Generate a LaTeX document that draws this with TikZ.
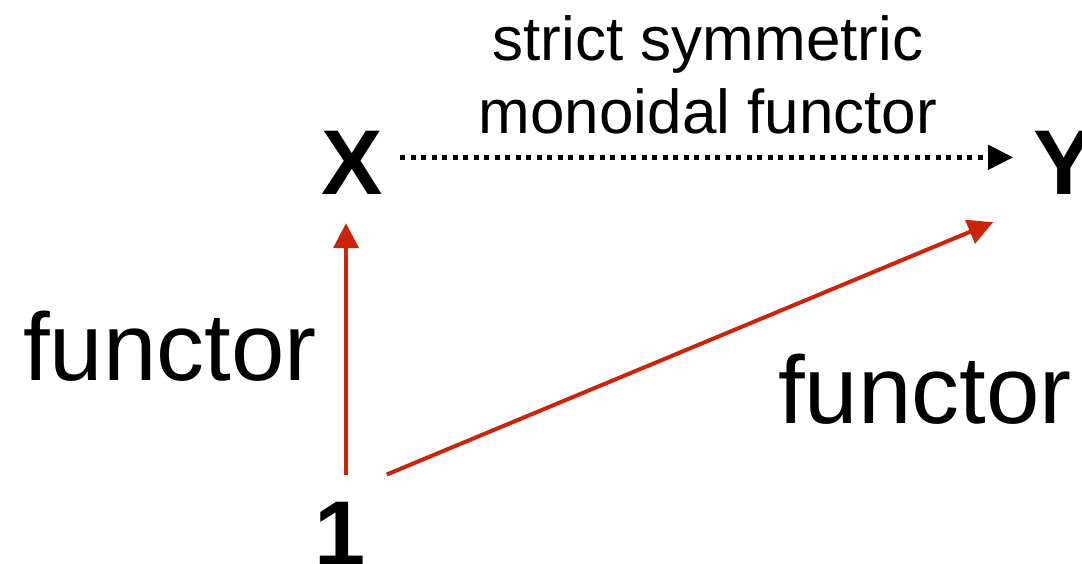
\documentclass[tikz,border=0pt]{standalone}
\usepackage{fontspec}
\setmainfont{Liberation Sans}
\usetikzlibrary{arrows.meta}
\definecolor{arrred}{RGB}{204,36,8}
\tikzset{
  obj/.style={inner sep=0pt, anchor=base, font=\fontsize{92}{92}\selectfont\bfseries},
  lbl/.style={inner sep=0pt, font=\fontsize{96}{96}\selectfont},
  toplbl/.style={inner sep=0pt, align=center, font=\fontsize{62}{73}\selectfont},
  redarrow/.style={draw=arrred, line width=4pt, -{Triangle[length=25pt,width=25pt]}, arrred},
  dotarrow/.style={draw=black, line width=4.5pt, dash pattern=on 5pt off 5.5pt,
     -{Triangle[length=25pt,width=24pt]}}
}
\begin{document}
\begin{tikzpicture}[x=1pt,y=-1pt]
\useasboundingbox (0,0) rectangle (1082,564);
\node[obj] (X) at (352.5,195) {X};
\node[obj] (Y) at (1064,195) {Y};
\node[obj] (one) at (340,565) {1};
\node[toplbl, anchor=north] (top) at (708,15) {strict symmetric\\monoidal functor};
\node[lbl, anchor=base west] (lf) at (23,380) {functor};
\node[lbl, anchor=base west] (rf) at (778,423) {functor};
\draw[dotarrow] ([xshift=17pt,yshift=6pt]X.east) -- ([xshift=-20pt,yshift=6pt]Y.west);
\draw[redarrow] ([xshift=6pt,yshift=27pt]one.north) -- ([xshift=-6.5pt,yshift=-28pt]X.south);
\draw[redarrow] ([xshift=21pt,yshift=27pt]one.north east) -- ([xshift=-40pt,yshift=-27pt]Y.south west);
\end{tikzpicture}
\end{document}
